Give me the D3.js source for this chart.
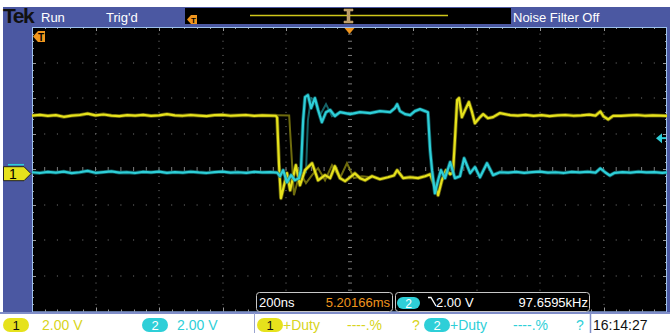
<!DOCTYPE html>
<html><head><meta charset="utf-8">
<script src="https://cdn.jsdelivr.net/npm/d3@7"></script>
<style>
html,body{margin:0;padding:0;background:#fff;}
svg{display:block;}
text{font-family:"Liberation Sans Narrow","Arial Narrow","Liberation Sans",sans-serif;}
</style></head>
<body>
<svg id="c" width="670" height="333"></svg>
<script>
// ---------------- DATA ----------------
// time in ns (200 ns/div, trigger at 0), volts (2 V/div both channels)
const timeDomain = [-1000, 1000];
const voltDomain = [-7.75, 8.25];
const yellowTrace = [
[-1000,3.27],[-975,3.31],[-950,3.25],[-925,3.29],[-900,3.20],[-875,3.27],[-850,3.30],[-825,3.38],[-800,3.28],[-775,3.33],
[-750,3.27],[-725,3.24],[-700,3.29],[-675,3.27],[-650,3.31],[-625,3.25],[-600,3.28],[-575,3.35],[-550,3.28],[-525,3.26],
[-500,3.30],[-475,3.27],[-450,3.24],[-425,3.29],[-400,3.31],[-375,3.26],[-350,3.28],[-325,3.30],[-300,3.25],[-275,3.28],
[-250,3.27],[-232,3.26],[-228,3.15],[-222,0.5],[-216,-1.38],[-197,0.03],[-187,-0.93],[-169,0.48],[-156,-0.65],[-140,0.2],
[-118,0.59],[-99,-0.37],[-77,-0.08],[-61,-0.25],[-46,0.42],[-30,-0.25],[-14,-0.42],[2,-0.2],[17,0.02],[33,-0.25],
[49,-0.37],[71,-0.14],[96,-0.31],[121,-0.2],[140,-0.1],[150,0.2],[169,-0.25],[191,-0.2],[216,-0.25],[238,-0.14],
[254,-0.03],[266,-0.59],[279,-1.21],[291,-0.37],[304,0.2],[317,-0.03],[326,0.08],[332,1.89],[339,4.14],[345,4.25],
[354,3.18],[367,3.69],[376,4.03],[386,3.46],[395,2.84],[408,3.12],[421,3.35],[436,3.12],[452,3.18],[474,3.41],
[506,3.29],[530,3.27],[555,3.31],[580,3.25],[605,3.29],[630,3.24],[655,3.28],[680,3.30],[705,3.26],[730,3.28],
[755,3.32],[775,3.27],[790,3.50],[800,3.22],[815,3.05],[830,3.25],[855,3.25],[880,3.28],[905,3.30],[930,3.26],
[955,3.28],[980,3.27],[1000,3.25]
];
const cyanTrace = [
[-1000,0.08],[-975,0.04],[-950,0.10],[-925,0.06],[-900,0.12],[-875,0.03],[-850,0.08],[-825,0.16],[-800,0.05],[-775,0.09],
[-750,0.13],[-725,0.06],[-700,0.08],[-675,0.04],[-650,0.10],[-625,0.07],[-600,0.12],[-575,0.05],[-550,0.09],[-525,0.06],
[-500,0.11],[-475,0.07],[-450,0.04],[-425,0.09],[-400,0.12],[-375,0.06],[-350,0.08],[-325,0.05],[-300,0.10],[-275,0.07],
[-250,0.09],[-228,0.06],[-219,-0.14],[-209,0.2],[-197,-0.48],[-184,-0.08],[-172,-0.37],[-159,-0.25],[-153,0.2],[-146,3.01],
[-140,4.31],[-131,4.42],[-121,3.69],[-109,4.25],[-99,3.58],[-87,2.9],[-74,3.46],[-61,3.58],[-46,3.24],[-30,3.46],
[2,3.35],[33,3.46],[65,3.41],[96,3.52],[128,3.46],[143,3.69],[150,3.91],[159,3.52],[175,3.35],[191,3.29],
[206,3.52],[222,3.63],[238,3.52],[247,3.46],[254,1.32],[260,0.2],[269,-1.1],[279,-0.37],[288,0.2],[301,-0.25],
[317,0.65],[332,-0.25],[348,-0.14],[361,0.87],[380,0.03],[395,0.37],[411,-0.2],[433,0.59],[452,-0.08],[474,0.08],
[500,0.06],[525,0.10],[550,0.05],[575,0.09],[600,0.12],[625,0.06],[650,0.08],[675,0.04],[700,0.10],[725,0.07],
[750,0.11],[775,0.06],[790,0.30],[805,0.08],[820,-0.1],[835,0.05],[860,0.09],[885,0.06],[910,0.11],[935,0.07],
[960,0.09],[985,0.05],[1000,0.07]
];
const yellowGhost = [
[-230,3.29],[-190,3.27],[-184,1.5],[-175,-1.21],[-156,0.08],[-137,-0.53],[-118,-0.08],[-99,0.31],[-77,-0.37],
[-55,0.48],[-30,-0.25],[-8,0.59],[14,-0.25],[39,-0.14],[70,-0.2]
];
const cyanGhost = [
[-170,0.05],[-156,0.03],[-137,0.08],[-131,3.01],[-121,4.25],[-106,4.14],[-93,3.29],[-74,3.91],[-55,3.24],[-30,3.46],[0,3.38]
];
const statusTop = ["Run", "Trig'd", "Noise Filter Off"];
const measBox = {timebase:"200ns", position:"5.20166ms", trigLevel:"2.00 V", freq:"97.6595kHz"};
const chScales = ["2.00 V", "2.00 V"];
const measItems = ["+Duty", "----.%", "?"];
const clock = "16:14:27";

// ---------------- LAYOUT ----------------
const svg = d3.select("#c");
const L = 32, R = 667, T = 27, B = 311.5;
const x = d3.scaleLinear().domain(timeDomain).range([L, R]);
const y = d3.scaleLinear().domain(voltDomain).range([B, T]);
const divX = d3.scaleLinear().domain([0, 10]).range([L, R]);
const divY = d3.scaleLinear().domain([0, 8]).range([T, B]);

const BLUE = "#4b58a2", YEL = "#e6e21c", CYA = "#2ecfd8", ORG = "#f0961e";

// frame
svg.append("rect").attr("x",0).attr("y",0).attr("width",670).attr("height",333).attr("fill","#fff");
svg.append("rect").attr("x",3).attr("y",7).attr("width",667).attr("height",306).attr("fill",BLUE);
svg.append("rect").attr("x",L).attr("y",T).attr("width",R-L).attr("height",B-T).attr("fill","#000");

// grid
const g = svg.append("g");
const dotCol = "#7c7c7c";
for (let i = 1; i < 10; i++) {
  for (let k = 1; k < 40; k++) {
    if (i === 5) continue;
    g.append("rect").attr("x", Math.round(divX(i))-0.5).attr("y", divY(k/5)-0.5).attr("width",1).attr("height",1).attr("fill",dotCol);
  }
}
for (let j = 1; j < 8; j++) {
  if (j === 4) continue;
  for (let k = 1; k < 50; k++) {
    g.append("rect").attr("x", divX(k/5)-0.5).attr("y", Math.round(divY(j))-0.5).attr("width",1).attr("height",1).attr("fill",dotCol);
  }
}
// center cross with ticks
const cx = Math.round(divX(5)), cy = Math.round(divY(4));
for (let k = 1; k < 40; k++) {
  const yy = divY(k/5);
  g.append("line").attr("x1",cx-2).attr("x2",cx+2).attr("y1",yy).attr("y2",yy).attr("stroke",dotCol).attr("stroke-width",1);
}
for (let k = 1; k < 50; k++) {
  const xx = divX(k/5);
  g.append("line").attr("x1",xx).attr("x2",xx).attr("y1",cy-2).attr("y2",cy+2).attr("stroke",dotCol).attr("stroke-width",1);
}
// edge ticks
for (let k = 1; k < 50; k++) {
  const xx = Math.round(divX(k/5))+0.5, len = (k%5===0)?4:2;
  g.append("line").attr("x1",xx).attr("x2",xx).attr("y1",T).attr("y2",T+len).attr("stroke","#999");
  g.append("line").attr("x1",xx).attr("x2",xx).attr("y1",B).attr("y2",B-len).attr("stroke","#999");
}
for (let k = 1; k < 40; k++) {
  const yy = Math.round(divY(k/5))+0.5, len = (k%5===0)?4:2;
  g.append("line").attr("x1",L).attr("x2",L+len).attr("y1",yy).attr("y2",yy).attr("stroke","#999");
  g.append("line").attr("x1",R).attr("x2",R-len).attr("y1",yy).attr("y2",yy).attr("stroke","#999");
}
svg.append("rect").attr("x",L+0.5).attr("y",T+0.5).attr("width",R-L-1).attr("height",B-T).attr("fill","none").attr("stroke","#9cc0ec").attr("stroke-width",1);

// traces
const line = d3.line().x(d => x(d[0])).y(d => y(d[1]));
const tr = svg.append("g");
tr.append("path").datum(yellowGhost).attr("d",line).attr("fill","none").attr("stroke","#8a8610").attr("stroke-width",2).attr("opacity",0.8);
tr.append("path").datum(cyanGhost).attr("d",line).attr("fill","none").attr("stroke","#1a7a80").attr("stroke-width",2).attr("opacity",0.8);
[[yellowTrace, YEL, "#8a8512"], [cyanTrace, CYA, "#167b82"]].forEach(([data, col, dark]) => {
  tr.append("path").datum(data).attr("d",line).attr("fill","none").attr("stroke",dark).attr("stroke-width",3.8).attr("stroke-linejoin","round").attr("opacity",0.7);
  tr.append("path").datum(data).attr("d",line).attr("fill","none").attr("stroke",col).attr("stroke-width",2.2).attr("stroke-linejoin","round");
});

// markers inside graticule
const tx0 = x(0);
svg.append("path").attr("d",`M${tx0-5},${T+1}L${tx0+5},${T+1}L${tx0},${T+7}Z`).attr("fill",ORG);
svg.append("path").attr("d","M33,36.5L38,31L45,31L45,42L38,42Z").attr("fill",ORG);
svg.append("text").attr("x",41).attr("y",41).attr("font-size",10).attr("font-weight","bold").attr("text-anchor","middle").attr("fill","#000").text("T");
// trigger level arrow (right)
const ty = y(2.0);
svg.append("path").attr("d",`M656,${ty}L662,${ty-5}L662,${ty+5}Z`).attr("fill",CYA);
svg.append("line").attr("x1",661).attr("x2",666).attr("y1",ty).attr("y2",ty).attr("stroke",CYA).attr("stroke-width",2);
// channel 1 ground marker
const gy = y(0);
svg.append("line").attr("x1",8).attr("x2",24).attr("y1",gy-9).attr("y2",gy-9).attr("stroke",CYA).attr("stroke-width",1.5);
svg.append("path").attr("d",`M3.5,${gy-7}L24,${gy-7}L31,${gy}L24,${gy+7}L3.5,${gy+7}Z`).attr("fill",YEL).attr("stroke","#222").attr("stroke-width",1);
svg.append("text").attr("x",13).attr("y",gy+5.5).attr("font-size",14).attr("text-anchor","middle").attr("fill","#000").text("1");

// top bar
svg.append("text").attr("x",3).attr("y",23).attr("font-family","Liberation Serif, DejaVu Serif, serif").attr("font-size",21).attr("font-weight","bold").attr("letter-spacing",-1.5).attr("fill","#111").text("Tek");
svg.append("text").attr("x",41).attr("y",21.5).attr("font-size",13).attr("fill","#fff").text(statusTop[0]);
svg.append("text").attr("x",106).attr("y",21.5).attr("font-size",13).attr("fill","#fff").text(statusTop[1]);
svg.append("text").attr("x",513).attr("y",21.5).attr("font-size",13).attr("fill","#fff").text(statusTop[2]);
svg.append("rect").attr("x",185).attr("y",8).attr("width",326).attr("height",16).attr("fill","#000");
svg.append("path").attr("d","M187,19.5L191,15L197,15L197,24L191,24Z").attr("fill",ORG);
svg.append("text").attr("x",193.5).attr("y",23).attr("font-size",8).attr("font-weight","bold").attr("text-anchor","middle").attr("fill","#000").text("T");
svg.append("line").attr("x1",250).attr("x2",448).attr("y1",15.5).attr("y2",15.5).attr("stroke","#cfc61a").attr("stroke-width",1.5);
svg.append("path").attr("d","M344,9L353,9L353,11L350,11L350,21L353,21L353,23L344,23L344,21L347,21L347,11L344,11Z").attr("fill","#b89a6a").attr("stroke","#d9b070").attr("stroke-width",0.5);

// measurement boxes
svg.append("line").attr("x1",0).attr("x2",670).attr("y1",313).attr("y2",313).attr("stroke","#7f8dc8").attr("stroke-width",2);
svg.append("rect").attr("x",256.5).attr("y",292.5).attr("width",136).attr("height",19).attr("rx",3).attr("fill","#000").attr("stroke","#c8c8c8");
svg.append("rect").attr("x",395.5).attr("y",292.5).attr("width",194).attr("height",19).attr("rx",3).attr("fill","#000").attr("stroke","#c8c8c8");
svg.append("text").attr("x",259).attr("y",306.5).attr("font-size",13).attr("fill","#fff").text(measBox.timebase);
svg.append("text").attr("x",390).attr("y",306.5).attr("font-size",13).attr("text-anchor","end").attr("fill",ORG).text(measBox.position);
svg.append("rect").attr("x",397).attr("y",297).attr("width",23).attr("height",12).attr("rx",6).attr("fill",CYA);
svg.append("text").attr("x",408.5).attr("y",307.5).attr("font-size",12).attr("text-anchor","middle").attr("fill","#fff").text("2");
svg.append("path").attr("d","M428,297.5L431,297.5L436,306").attr("fill","none").attr("stroke","#fff").attr("stroke-width",1.3);
svg.append("text").attr("x",436).attr("y",306.5).attr("font-size",13).attr("fill","#fff").text(measBox.trigLevel);
svg.append("text").attr("x",588).attr("y",306.5).attr("font-size",13).attr("text-anchor","end").attr("fill","#fff").text(measBox.freq);

// bottom status
svg.append("line").attr("x1",254.5).attr("x2",254.5).attr("y1",313).attr("y2",333).attr("stroke","#9aa4d0").attr("stroke-width",1);
svg.append("line").attr("x1",590.5).attr("x2",590.5).attr("y1",313).attr("y2",333).attr("stroke","#7f8dc8").attr("stroke-width",1.5);
function pill(px, col, label, txtCol) {
  svg.append("rect").attr("x",px).attr("y",318).attr("width",26).attr("height",14).attr("rx",7).attr("fill",col);
  svg.append("text").attr("x",px+13).attr("y",330).attr("font-size",13).attr("text-anchor","middle").attr("fill",txtCol).text(label);
}
pill(3, YEL, "1", "#111");
svg.append("text").attr("x",42).attr("y",330).attr("font-size",14).attr("fill","#d8d420").text(chScales[0]);
pill(142, CYA, "2", "#fff");
svg.append("text").attr("x",177).attr("y",330).attr("font-size",14).attr("fill",CYA).text(chScales[1]);
pill(257, YEL, "1", "#111");
svg.append("text").attr("x",283).attr("y",330).attr("font-size",14).attr("fill","#d8d420").text(measItems[0]);
svg.append("text").attr("x",347).attr("y",330).attr("font-size",14).attr("fill","#d8d420").text(measItems[1]);
svg.append("text").attr("x",412).attr("y",330).attr("font-size",14).attr("fill","#d8d420").text(measItems[2]);
pill(424, CYA, "2", "#fff");
svg.append("text").attr("x",450).attr("y",330).attr("font-size",14).attr("fill",CYA).text(measItems[0]);
svg.append("text").attr("x",513).attr("y",330).attr("font-size",14).attr("fill",CYA).text(measItems[1]);
svg.append("text").attr("x",576).attr("y",330).attr("font-size",14).attr("fill",CYA).text(measItems[2]);
svg.append("text").attr("x",593).attr("y",330).attr("font-size",14).attr("fill","#111").text(clock);
</script>
</body></html>
